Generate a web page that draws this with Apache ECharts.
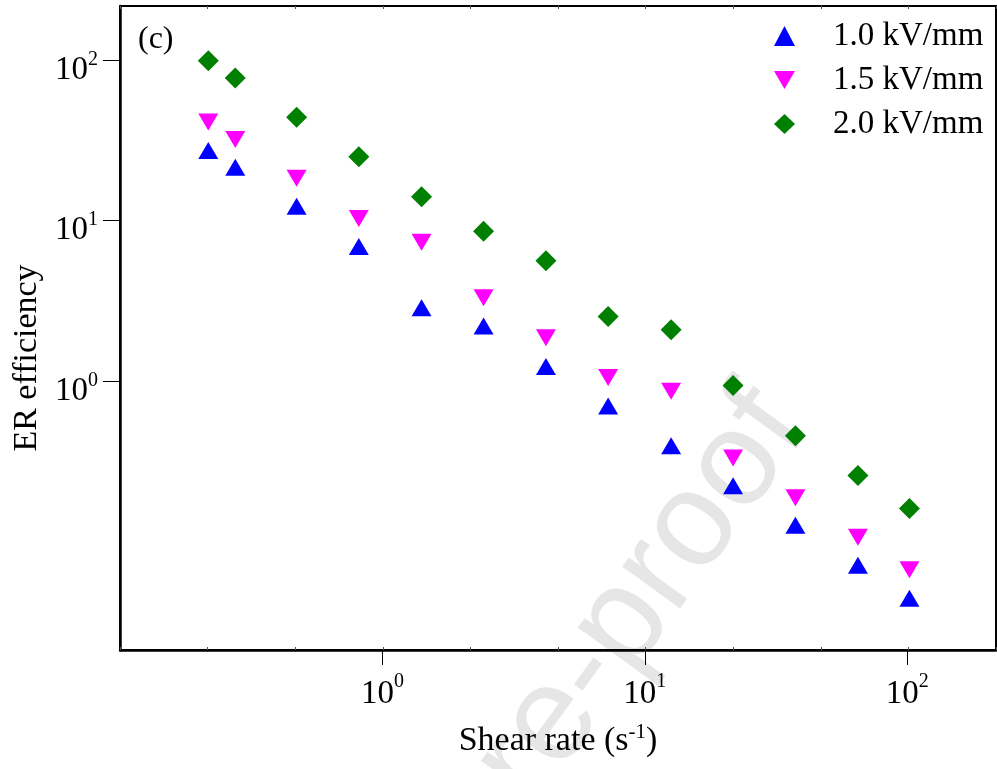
<!DOCTYPE html>
<html><head><meta charset="utf-8">
<script src="https://cdn.jsdelivr.net/npm/echarts@6/dist/echarts.min.js"></script>
<style>html,body{margin:0;padding:0;background:#fff}#c{width:997px;height:769px}</style>
</head><body><div id="c"></div>
<script>
// ---- data ----
const shearRate = [0.217, 0.275, 0.471, 0.813, 1.41, 2.43, 4.20, 7.25, 12.6, 21.7, 37.5, 64.9, 102];
const eff10 = [27.4, 21.5, 12.3, 6.90, 2.86, 2.20, 1.23, 0.698, 0.394, 0.222, 0.126, 0.0708, 0.0442];
const eff15 = [41.2, 32.1, 18.4, 10.3, 7.33, 3.30, 1.86, 1.05, 0.862, 0.331, 0.187, 0.106, 0.0664];
const eff20 = [99.2, 77.4, 44.2, 25.0, 14.1, 8.59, 5.63, 2.52, 2.09, 0.937, 0.455, 0.257, 0.160];
const seriesNames = ['1.0 kV/mm', '1.5 kV/mm', '2.0 kV/mm'];
const xTickValues = [1, 10, 100];
const yTickValues = [1, 10, 100];
const xTitle = 'Shear rate (s';
const xTitleSup = '-1';
const yTitle = 'ER efficiency';
const panelTag = '(c)';
const watermark = 'Journal Pre-proof';

const F = '"Liberation Serif", "Times New Roman", serif';
const chart = echarts.init(document.getElementById('c'));
const pw = v => Math.round(Math.log10(v));
const pair = ys => shearRate.map((x, i) => [x, ys[i]]);

const minorAxis = pos => ({
  type: 'value', min: 0, max: 10, interval: 1, position: pos,
  axisLine: {show: false},
  axisTick: {show: true, inside: true, length: 3, lineStyle: {color: '#555', width: 1}},
  axisLabel: {show: false}, splitLine: {show: false}
});

chart.setOption({
  animation: false,
  backgroundColor: '#fff',
  grid: {left: 120, right: 1, top: 6, bottom: 119, show: true, borderColor: '#000', borderWidth: 2, backgroundColor: 'transparent'},
  legend: {
    orient: 'vertical', left: 774, top: 14, padding: 0, itemGap: 0, itemWidth: 21, itemHeight: 20,
    data: [
      {name: seriesNames[0]},
      {name: seriesNames[1], icon: 'path://M0,0L20,0L10,17Z'},
      {name: seriesNames[2]}
    ],
    textStyle: {fontFamily: F, fontSize: 33, color: '#000', lineHeight: 44, padding: [0, 0, 0, 33]}
  },
  xAxis: [{
    type: 'log', logBase: 10, min: 0.1, max: 218, position: 'bottom',
    axisLine: {show: true, lineStyle: {color: '#000', width: 2.5}},
    axisTick: {show: true, inside: false, length: 15, customValues: xTickValues, lineStyle: {color: '#000', width: 1}},
    minorTick: {show: false}, splitLine: {show: false},
    axisLabel: {
      customValues: xTickValues, margin: 22,
      formatter: v => '{b|10}{s|' + pw(v) + '}',
      rich: {
        b: {fontFamily: F, fontSize: 33, color: '#000', lineHeight: 39, verticalAlign: 'bottom'},
        s: {fontFamily: F, fontSize: 20, color: '#000', lineHeight: 20, verticalAlign: 'top'}
      }
    },
    name: '{t|' + xTitle + '}{s|' + xTitleSup + '}{t|)}',
    nameLocation: 'middle', nameGap: 72,
    nameTextStyle: {
      rich: {
        t: {fontFamily: F, fontSize: 34, color: '#000', lineHeight: 36, verticalAlign: 'bottom'},
        s: {fontFamily: F, fontSize: 21, color: '#000', lineHeight: 20, verticalAlign: 'top'}
      }
    }
  }, minorAxis('top'), minorAxis('bottom')],
  yAxis: {
    type: 'log', logBase: 10, min: 0.021, max: 218,
    axisLine: {show: true, lineStyle: {color: '#000', width: 2.5}},
    axisTick: {show: true, inside: false, length: 17, customValues: yTickValues, lineStyle: {color: '#000', width: 1}},
    minorTick: {show: false}, splitLine: {show: false},
    axisLabel: {
      customValues: yTickValues, margin: 22,
      formatter: v => '{b|10}{s|' + pw(v) + '}',
      rich: {
        b: {fontFamily: F, fontSize: 33, color: '#000', lineHeight: 53, verticalAlign: 'bottom'},
        s: {fontFamily: F, fontSize: 20, color: '#000', lineHeight: 20, padding: [16, 0, 0, 0], verticalAlign: 'top'}
      }
    },
    name: yTitle, nameLocation: 'middle', nameGap: 75,
    nameTextStyle: {fontFamily: F, fontSize: 34, color: '#000', padding: [0, 60, 0, 0]}
  },
  graphic: [
    {type: 'text', x: 781, y: 406, rotation: 54 * Math.PI / 180, z: -10, silent: true,
     style: {text: watermark, font: '135px "Liberation Sans"', fill: '#e6e6e6', align: 'right', verticalAlign: 'middle'}},
    {type: 'text', x: 138, y: 40, silent: true,
     style: {text: panelTag, font: '32px "Liberation Serif"', fill: '#000', verticalAlign: 'middle'}}
  ],
  series: [
    {name: seriesNames[0], type: 'scatter', data: pair(eff10), symbol: 'triangle', symbolSize: [20, 17], itemStyle: {color: '#0000ff', opacity: 1}},
    {name: seriesNames[1], type: 'scatter', data: pair(eff15), symbol: 'triangle', symbolRotate: 180, symbolSize: [20, 17], itemStyle: {color: '#ff00ff', opacity: 1}},
    {name: seriesNames[2], type: 'scatter', data: pair(eff20), symbol: 'diamond', symbolSize: 21, itemStyle: {color: '#008000', opacity: 1}}
  ]
});
</script></body></html>
